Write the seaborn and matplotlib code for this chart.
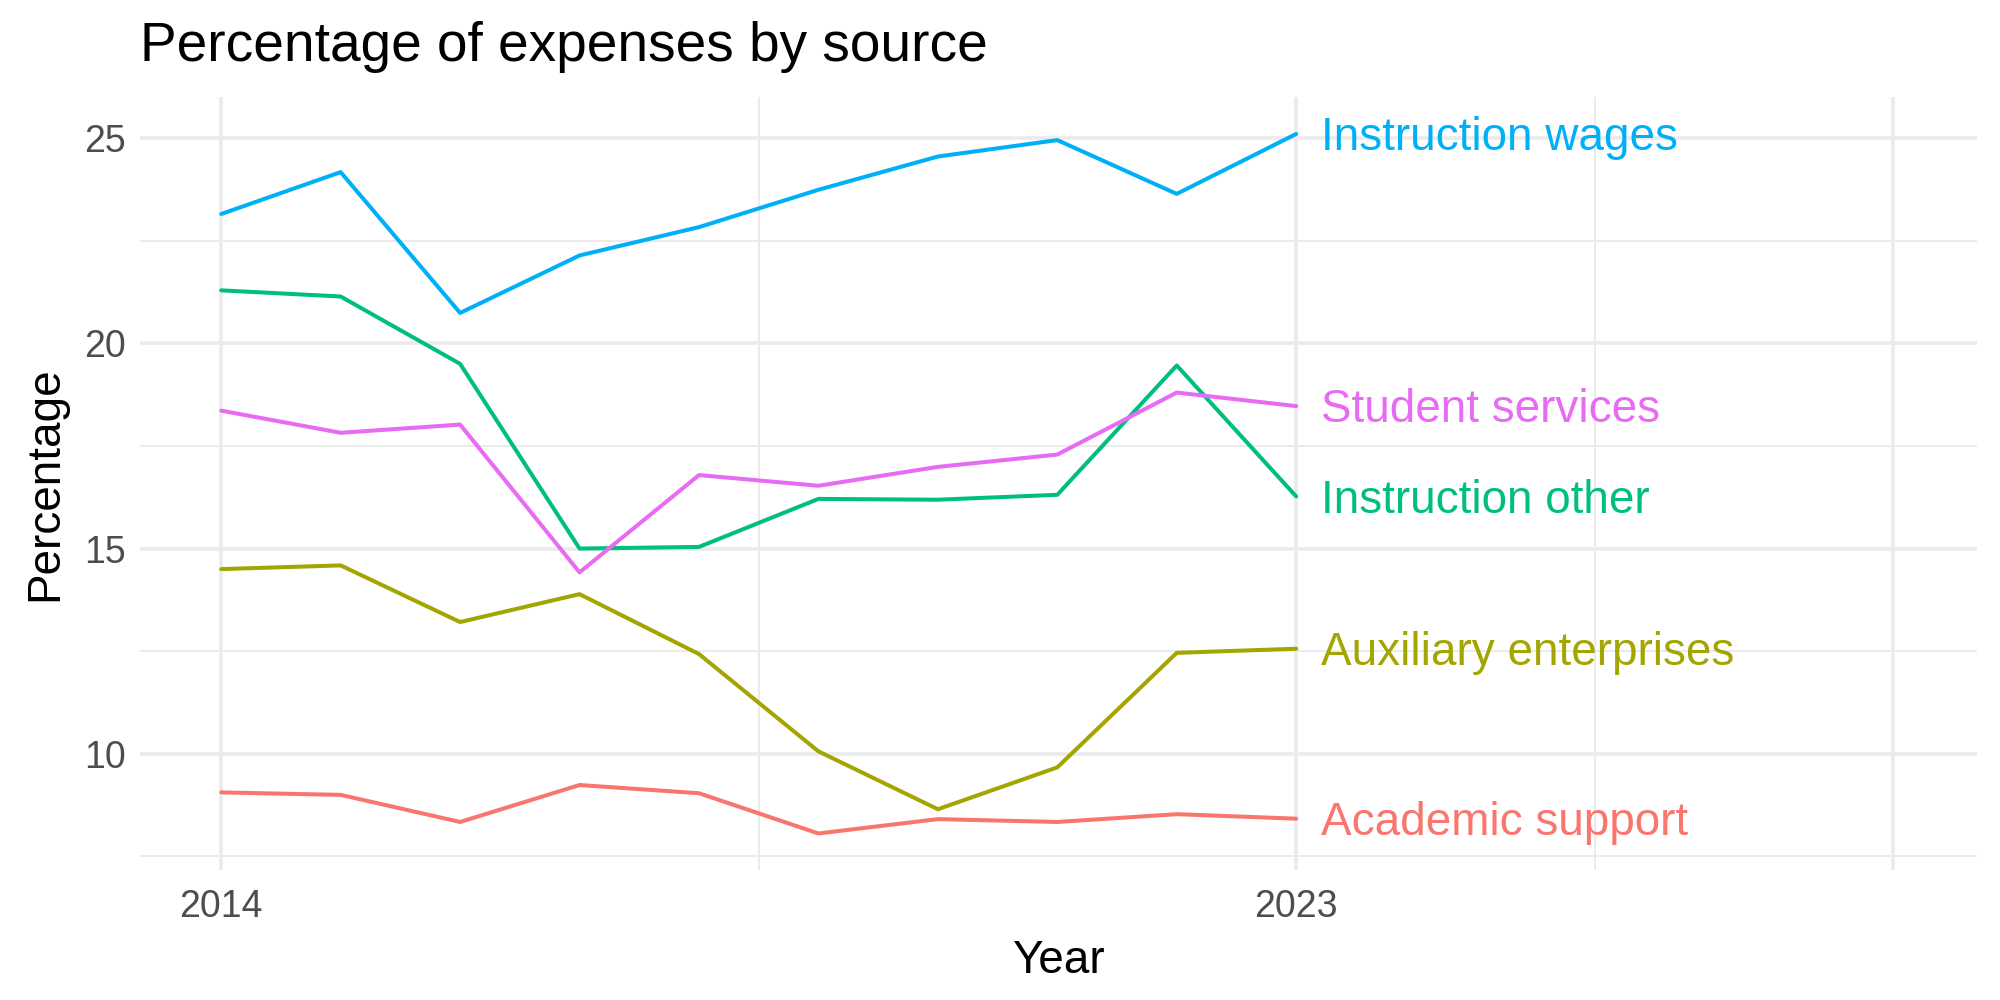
import numpy as np
import pandas as pd
import matplotlib
matplotlib.use('Agg')
import matplotlib.pyplot as plt
import seaborn as sns

# valeurs
years = list(range(2014, 2024))
academic_support = [9.06, 9.00, 8.34, 9.24, 9.04, 8.06, 8.41, 8.34, 8.53, 8.42]
auxiliary_enterprises = [14.50, 14.59, 13.21, 13.89, 12.43, 10.06, 8.65, 9.67, 12.46, 12.56]
instruction_other = [21.29, 21.14, 19.50, 15.00, 15.04, 16.21, 16.19, 16.31, 19.46, 16.27]
instruction_wages = [23.15, 24.17, 20.74, 22.14, 22.83, 23.74, 24.55, 24.95, 23.64, 25.10]
student_services = [18.36, 17.82, 18.02, 14.42, 16.79, 16.53, 16.99, 17.29, 18.80, 18.47]

sources = ['Academic support', 'Auxiliary enterprises', 'Instruction other',
           'Instruction wages', 'Student services']
colors = ['#F8766D', '#A3A500', '#00BF7D', '#00B0F6', '#E76BF3']

df = pd.DataFrame({
    'Year': years * 5,
    'Percentage': academic_support + auxiliary_enterprises + instruction_other
                  + instruction_wages + student_services,
    'Source': [s for s in sources for _ in years],
})
palette = dict(zip(sources, colors))

sns.set_style('white')
plt.rcParams['font.family'] = ['Liberation Sans', 'DejaVu Sans']

fig, ax = plt.subplots(figsize=(10, 5), dpi=200)
fig.subplots_adjust(left=0.07, right=0.9885, top=0.903, bottom=0.13)

sns.lineplot(data=df, x='Year', y='Percentage', hue='Source',
             palette=palette, linewidth=1.45, legend=False, ax=ax)

# étiquettes en bout de ligne
last = df[df['Year'] == years[-1]]
for _, row in last.iterrows():
    ax.annotate(row['Source'], (row['Year'], row['Percentage']),
                xytext=(9, -1.5), textcoords='offset points',
                color=palette[row['Source']], fontsize=16.5, ha='left', va='center')

ax.set_xlim(2013.32, 2028.7)
ax.set_ylim(7.17, 26.0)
ax.set_xticks([2014, 2023, 2028])
ax.set_xticklabels(['2014', '2023', ''])
ax.set_xticks([2018.5, 2025.5], minor=True)
ax.set_yticks([10, 15, 20, 25])
ax.set_yticks([7.5, 12.5, 17.5, 22.5], minor=True)

ax.grid(which='major', color='#EBEBEB', linewidth=1.3)
ax.grid(which='minor', color='#EBEBEB', linewidth=0.7)
ax.set_axisbelow(True)
for s in ax.spines.values():
    s.set_visible(False)
ax.tick_params(which='both', length=0, labelsize=13.5, labelcolor='#4D4D4D')
ax.tick_params(axis='x', pad=7)
ax.tick_params(axis='y', pad=5)

ax.set_xlabel('Year', fontsize=16.5, labelpad=5, color='black')
ax.set_ylabel('Percentage', fontsize=16.5, labelpad=6, color='black')
ax.set_title('Percentage of expenses by source', fontsize=19.8, loc='left',
             pad=13, color='black')

fig.savefig('out.png', dpi=200)
